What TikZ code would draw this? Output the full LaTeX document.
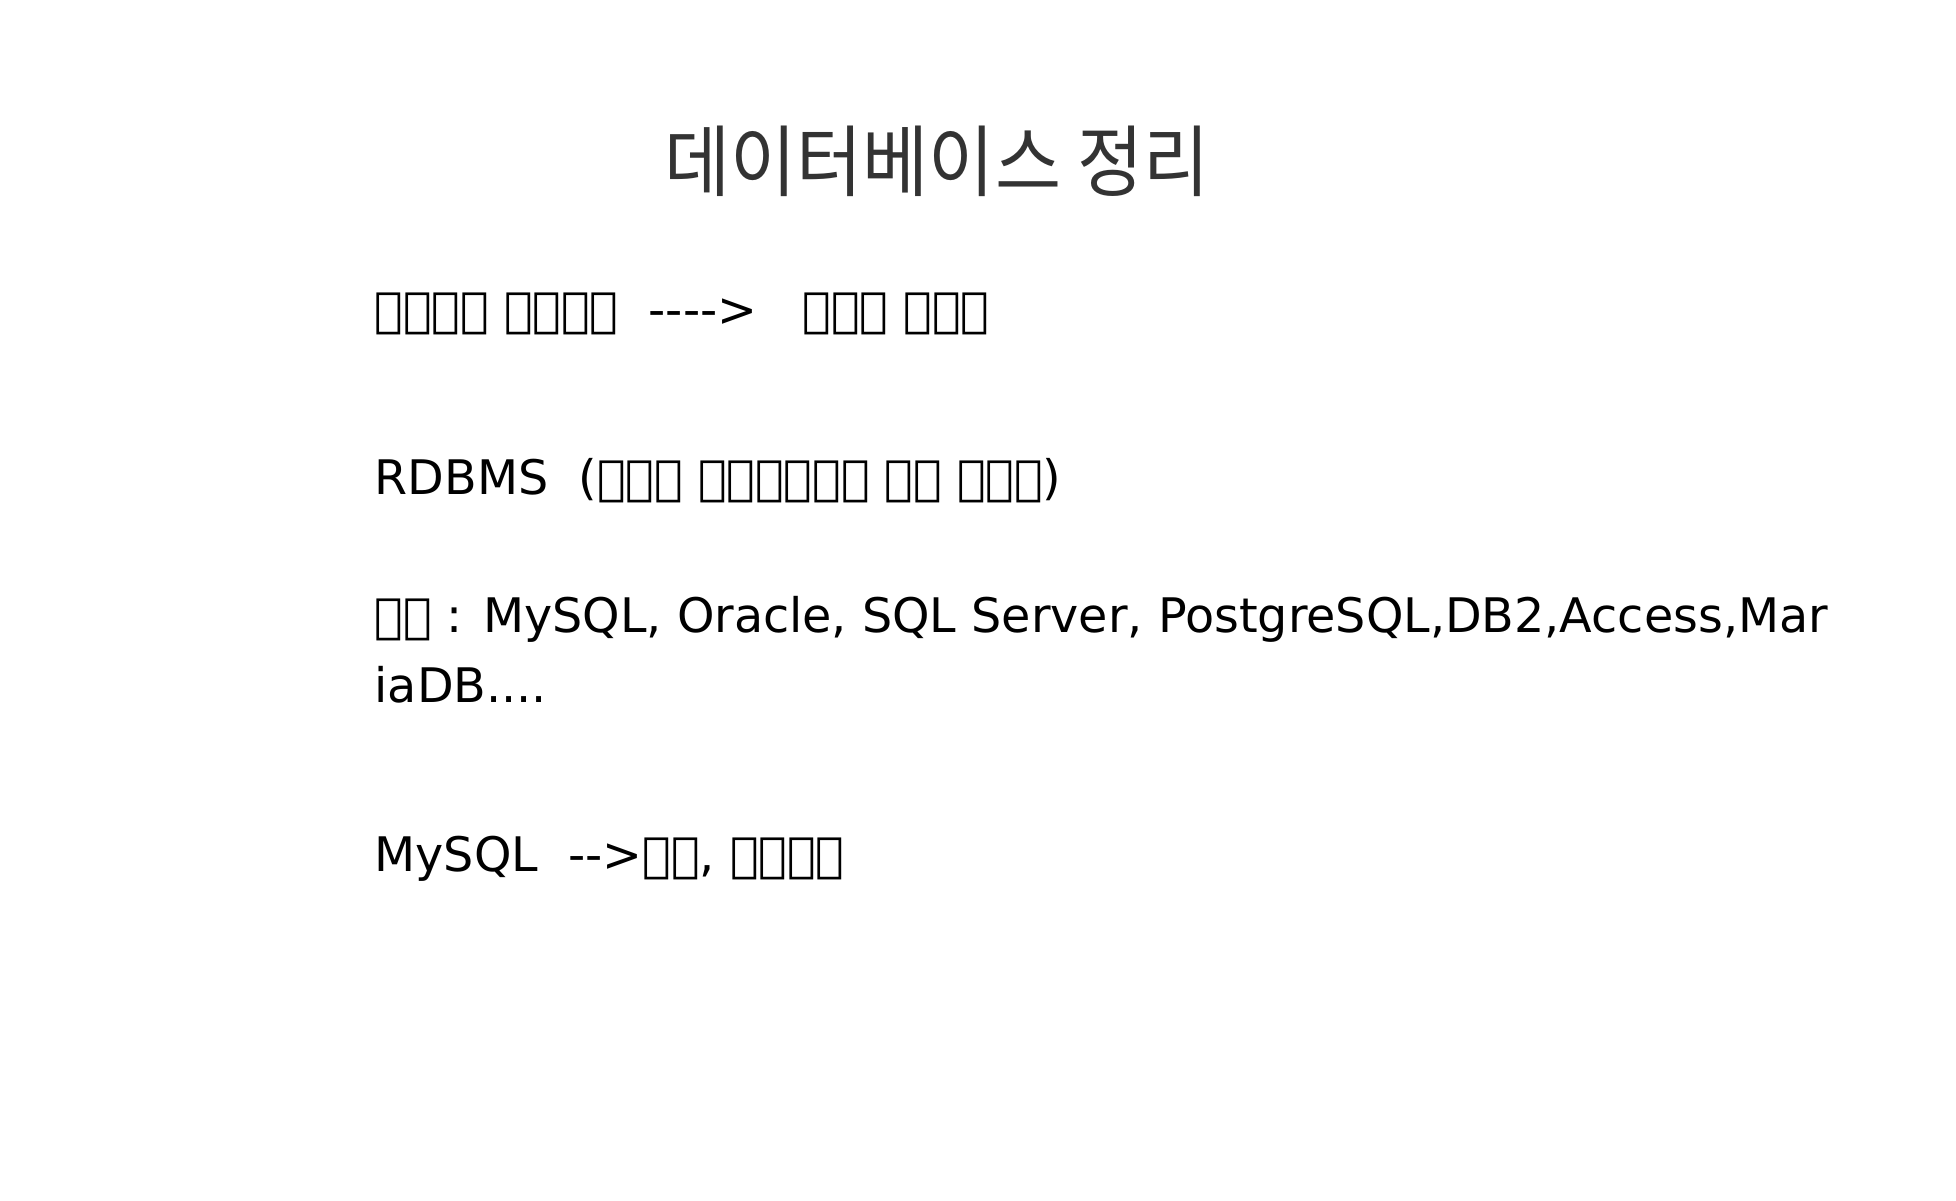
\documentclass[tikz,border=0pt]{standalone}
\usepackage{fontspec}
\setmainfont{DejaVu Sans}[Ligatures=TeXOff]
\newfontfamily\krfont{Noto Sans CJK KR}[FakeStretch=0.92]
\usepackage{tikz}
\usetikzlibrary{positioning}

\definecolor{titlegray}{HTML}{333333}
% missing-glyph box, as the page shows it
\newcommand{\nd}{\XeTeXglyph0\relax}

\tikzset{
    txt/.style={anchor=base west, inner sep=0pt, font=\fontsize{13.55}{19.35}\selectfont},
    ttl/.style={anchor=base, inner sep=0pt, text=titlegray, font=\krfont\fontsize{22.2}{26}\selectfont}
}

\begin{document}
\begin{tikzpicture}
    \useasboundingbox (0,0) rectangle (19.56,-12);

    \node[ttl] (title) at (9.37,-1.90) {데이터베이스 정리};

    \node[txt] (dbline) at (3.74,-3.26) {\nd\nd\nd\nd\ \nd\nd\nd\nd\ \ ---->\ \ \ \nd\nd\nd\ \nd\nd\nd};
    \node[txt] (rdbms) at (3.74,-4.94) {RDBMS\ \ (\nd\nd\nd\ \nd\nd\nd\nd\nd\nd\ \nd\nd\ \nd\nd\nd)};

    \node[txt] (kinds) at (3.74,-6.32) {\nd\nd\ : MySQL, Oracle, SQL Server, PostgreSQL,DB2,Access,Mar};
    \node[txt] (kindsb) at (3.74,-7.02) {iaDB....};

    \node[txt] (mysql) at (3.74,-8.71) {MySQL\ \ -->\nd\nd, \nd\nd\nd\nd};
\end{tikzpicture}
\end{document}
